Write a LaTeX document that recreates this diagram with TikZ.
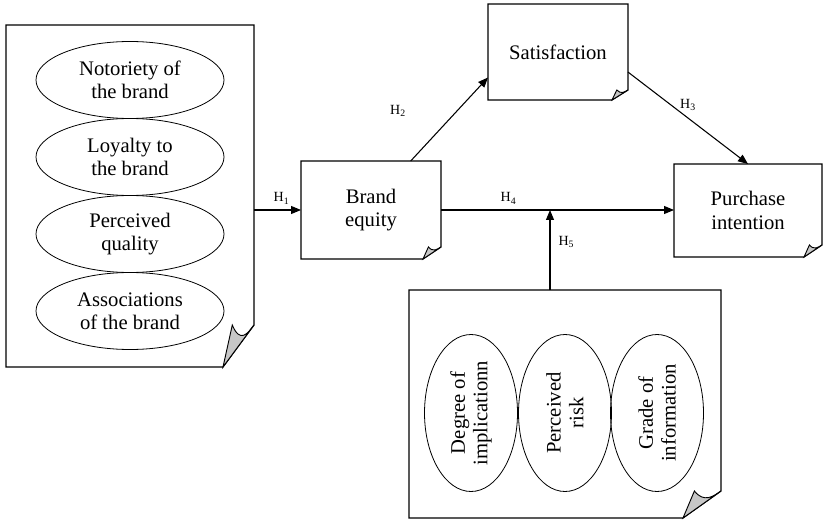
\documentclass[tikz,border=0pt]{standalone}
\usepackage{fontspec}
\setmainfont{Liberation Serif}
\usetikzlibrary{arrows.meta,calc,shapes.geometric}

% outline of a box node with a curled bottom right corner
\newcommand\pagecurl[3]{%
  \draw[line width=0.9pt] (#1.south west) -- (#1.north west) -- (#1.north east)
    -- ($(#1.south east)+(0,-#3)$) -- ($(#1.south east)+(-#2,0)$) -- cycle;
  \filldraw[line width=0.7pt,fill=black!22] ($(#1.south east)+(-#2,0)$)
    -- ($(#1.south east)+(-0.7*#2,-#3)$)
    .. controls ($(#1.south east)+(-0.45*#2,-0.55*#3)$) and ($(#1.south east)+(-0.2*#2,-0.8*#3)$)
    .. ($(#1.south east)+(0,-#3)$) -- cycle;
}

\begin{document}
\begin{tikzpicture}[x=0.75pt,y=-0.75pt,
    box/.style={rectangle,inner sep=0pt,outer sep=0pt,align=center,font=\fontsize{15.5}{17.5}\selectfont},
    oval/.style={ellipse,draw,line width=0.6pt,inner sep=0pt,outer sep=0pt,align=center,font=\fontsize{15.5}{17}\selectfont},
    arr/.style={line width=0.8pt,-{Triangle[length=7.5pt,width=6pt]}},
    hyp/.style={font=\fontsize{10.5}{12}\selectfont,inner sep=2pt}]
  \useasboundingbox (0,0) rectangle (827,520);
  % dimensions of brand equity
  \node[box,minimum width=186pt,minimum height=256.5pt] (attrs) at (130,196) {};
  \pagecurl{attrs}{31}{42}
  \node[oval,minimum width=141pt,minimum height=57.75pt] (noto) at (130,80) {Notoriety of\\the brand};
  \node[oval,minimum width=141pt,minimum height=57.75pt] (loyal) at (130,157) {Loyalty to\\the brand};
  \node[oval,minimum width=141pt,minimum height=57.75pt] (qual) at (130,234) {Perceived\\quality};
  \node[oval,minimum width=141pt,minimum height=57.75pt] (assoc) at (130,311) {Associations\\of the brand};
  % main constructs
  \node[box,minimum width=105pt,minimum height=73.5pt] (equity) at (371,210) {Brand\\equity};
  \pagecurl{equity}{18}{12}
  \node[box,minimum width=105pt,minimum height=72pt] (satis) at (558,52) {Satisfaction};
  \pagecurl{satis}{16}{10}
  \node[box,minimum width=111pt,minimum height=69.75pt] (purch) at (748,210.5) {Purchase\\intention};
  \pagecurl{purch}{18}{12}
  % moderators
  \node[box,minimum width=234pt,minimum height=171pt] (moder) at (565,404) {};
  \pagecurl{moder}{38}{27}
  \node[oval,rotate=90,minimum width=117.75pt,minimum height=69.75pt] (impl) at (471,413) {Degree of\\implicationn};
  \node[oval,rotate=90,minimum width=117.75pt,minimum height=69.75pt] (risk) at (565,413) {Perceived\\risk};
  \node[oval,rotate=90,minimum width=117.75pt,minimum height=69.75pt] (info) at (657,413) {Grade of\\information};
  % hypotheses
  \coordinate (join) at (550,210);
  \draw[arr] (attrs.east |- equity.west) -- (equity.west) node[midway,above,hyp,xshift=3pt,yshift=2pt] {H\textsubscript{1}};
  \draw[arr] (equity.51) -- (satis.200) node[pos=0.6,anchor=east,hyp,xshift=-36pt] {H\textsubscript{2}};
  \draw[arr] (satis.-16) -- (purch.north) node[pos=0.5,above,hyp,yshift=3pt] {H\textsubscript{3}};
  \draw[arr] (equity.east) -- (purch.west |- equity.east) node[pos=0.29,above,hyp,yshift=2pt] {H\textsubscript{4}};
  \draw[arr] (moder.north -| join) -- (join) node[pos=0.6,right,hyp,xshift=4pt] {H\textsubscript{5}};
\end{tikzpicture}
\end{document}
